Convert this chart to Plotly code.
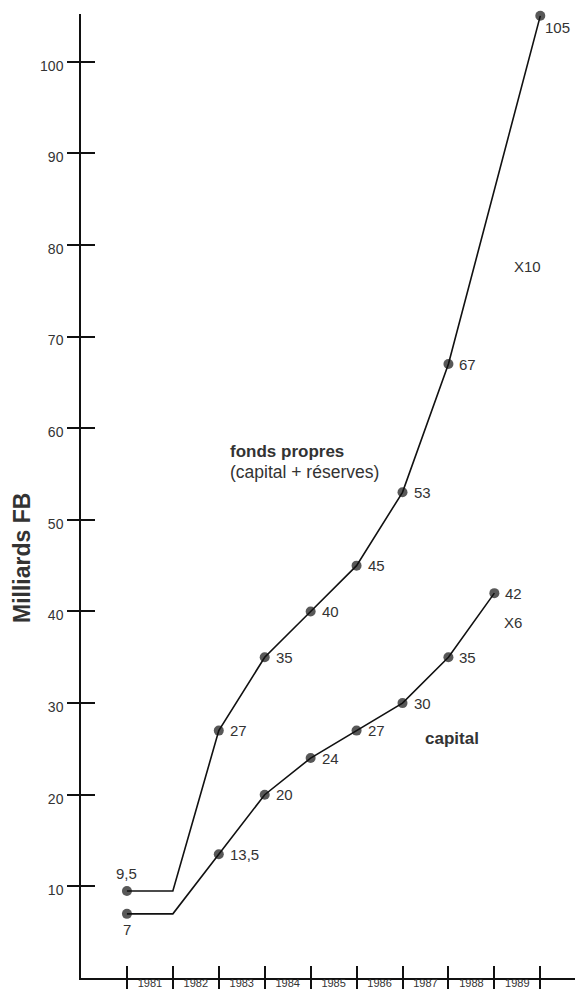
import plotly.graph_objects as go

# ---- data ----
fp_years = [1981, 1982, 1983, 1984, 1985, 1986, 1987, 1988, 1990]
fp_values = [9.5, 9.5, 27, 35, 40, 45, 53, 67, 105]
fp_labels = ["9,5", "", "27", "35", "40", "45", "53", "67", "105"]

cap_years = [1981, 1982, 1983, 1984, 1985, 1986, 1987, 1988, 1989]
cap_values = [7, 7, 13.5, 20, 24, 27, 30, 35, 42]
cap_labels = ["7", "", "13,5", "20", "24", "27", "30", "35", "42"]

year_ticks = [1981, 1982, 1983, 1984, 1985, 1986, 1987, 1988, 1989, 1990]
year_labels = ["1981", "1982", "1983", "1984", "1985", "1986", "1987", "1988", "1989"]
y_ticks = [10, 20, 30, 40, 50, 60, 70, 80, 90, 100]

INK = "#111111"
TXT = "#333333"
FONT = "Liberation Sans, Arial, Helvetica, sans-serif"

X_RANGE = [1980, 1990.93]
Y_RANGE = [0, 105.2]

fig = go.Figure()

def marker_sizes(labels):
    return [0 if lab == "" else 10 for lab in labels]

for xs, ys, labs in [(fp_years, fp_values, fp_labels), (cap_years, cap_values, cap_labels)]:
    fig.add_trace(go.Scatter(x=xs, y=ys, mode="lines+markers",
                             line=dict(color=INK, width=1.6),
                             marker=dict(color=INK, size=marker_sizes(labs),
                                         line=dict(width=0)),
                             cliponaxis=False, showlegend=False, hoverinfo="skip"))

# empty traces to hold overlay axes (for crossing tick marks)
fig.add_trace(go.Scatter(x=[None], y=[None], xaxis="x2", yaxis="y2",
                         showlegend=False, hoverinfo="skip"))
fig.add_trace(go.Scatter(x=[None], y=[None], xaxis="x3", yaxis="y3",
                         showlegend=False, hoverinfo="skip"))

annotations = []
for series_x, series_y, series_lab in [(fp_years, fp_values, fp_labels),
                                       (cap_years, cap_values, cap_labels)]:
    for i, (xv, yv, lab) in enumerate(zip(series_x, series_y, series_lab)):
        if lab == "":
            continue
        a = dict(x=xv, y=yv, xref="x", yref="y", text=lab, showarrow=False,
                 font=dict(family=FONT, size=15, color=TXT),
                 xanchor="left", yanchor="middle", xshift=9, yshift=0)
        if i == 0:
            a.update(xanchor="center", xshift=0,
                     yshift=17 if series_y is fp_values else -16)
        if lab == "105":
            a.update(xshift=3, yshift=-12)
        annotations.append(a)

annotations += [
    dict(x=1983.2, y=57.5, xref="x", yref="y", text="<b>fonds propres</b>",
         showarrow=False, xanchor="left", yanchor="middle",
         font=dict(family=FONT, size=17, color=TXT)),
    dict(x=1983.2, y=55.2, xref="x", yref="y", text="(capital + réserves)",
         showarrow=False, xanchor="left", yanchor="middle",
         font=dict(family=FONT, size=17.5, color=TXT)),
    dict(x=1988.08, y=26.15, xref="x", yref="y", text="<b>capital</b>",
         showarrow=False, xanchor="center", yanchor="middle",
         font=dict(family=FONT, size=17, color=TXT)),
    dict(x=1989.73, y=77.7, xref="x", yref="y", text="X10",
         showarrow=False, xanchor="center", yanchor="middle",
         font=dict(family=FONT, size=15, color=TXT)),
    dict(x=1989.41, y=38.8, xref="x", yref="y", text="X6",
         showarrow=False, xanchor="center", yanchor="middle",
         font=dict(family=FONT, size=15, color=TXT)),
    dict(x=-0.119, y=0.436, xref="paper", yref="paper", text="<b>Milliards FB</b>",
         textangle=-90, showarrow=False, xanchor="center", yanchor="middle",
         font=dict(family=FONT, size=23, color=TXT)),
]

half_years = [y + 0.5 for y in year_ticks[:-1]]

common = dict(showgrid=False, zeroline=False, automargin=False)

# page body has an 8px default margin: the figure is sized to fit the window
fig.update_layout(
    template="none",
    width=575, height=984,
    margin=dict(l=73, r=0, t=6, b=14, autoexpand=False),
    paper_bgcolor="white", plot_bgcolor="white",
    annotations=annotations,
    xaxis=dict(range=X_RANGE, tickvals=half_years, ticktext=year_labels,
               ticks="", showline=True, linecolor=INK, linewidth=1.5,
               ticklabelstandoff=-6,
               tickfont=dict(family=FONT, size=11, color=TXT),
               anchor="y", **common),
    yaxis=dict(range=Y_RANGE, tickvals=y_ticks, ticks="outside", ticklen=12,
               tickwidth=1.5, tickcolor=INK,
               showline=True, linecolor=INK, linewidth=1.5,
               ticklabelshift=4, ticklabelstandoff=1,
               tickfont=dict(family=FONT, size=14, color=TXT), **common),
    xaxis2=dict(range=X_RANGE, overlaying="x", anchor="y2", side="bottom",
                tickvals=year_ticks, ticks="outside", ticklen=10, tickwidth=1.5,
                tickcolor=INK, showticklabels=False, showline=False, **common),
    yaxis2=dict(range=Y_RANGE, overlaying="y", anchor="x2", side="left",
                tickvals=y_ticks, ticks="inside", ticklen=14, tickwidth=1.5,
                tickcolor=INK, showticklabels=False, showline=False, **common),
    xaxis3=dict(range=X_RANGE, overlaying="x", anchor="y3", side="bottom",
                tickvals=year_ticks, ticks="inside", ticklen=12, tickwidth=1.5,
                tickcolor=INK, showticklabels=False, showline=False, **common),
    yaxis3=dict(range=Y_RANGE, overlaying="y", anchor="x3", side="left",
                showticklabels=False, showline=False, ticks="", **common),
)

fig.write_html("out.html")
